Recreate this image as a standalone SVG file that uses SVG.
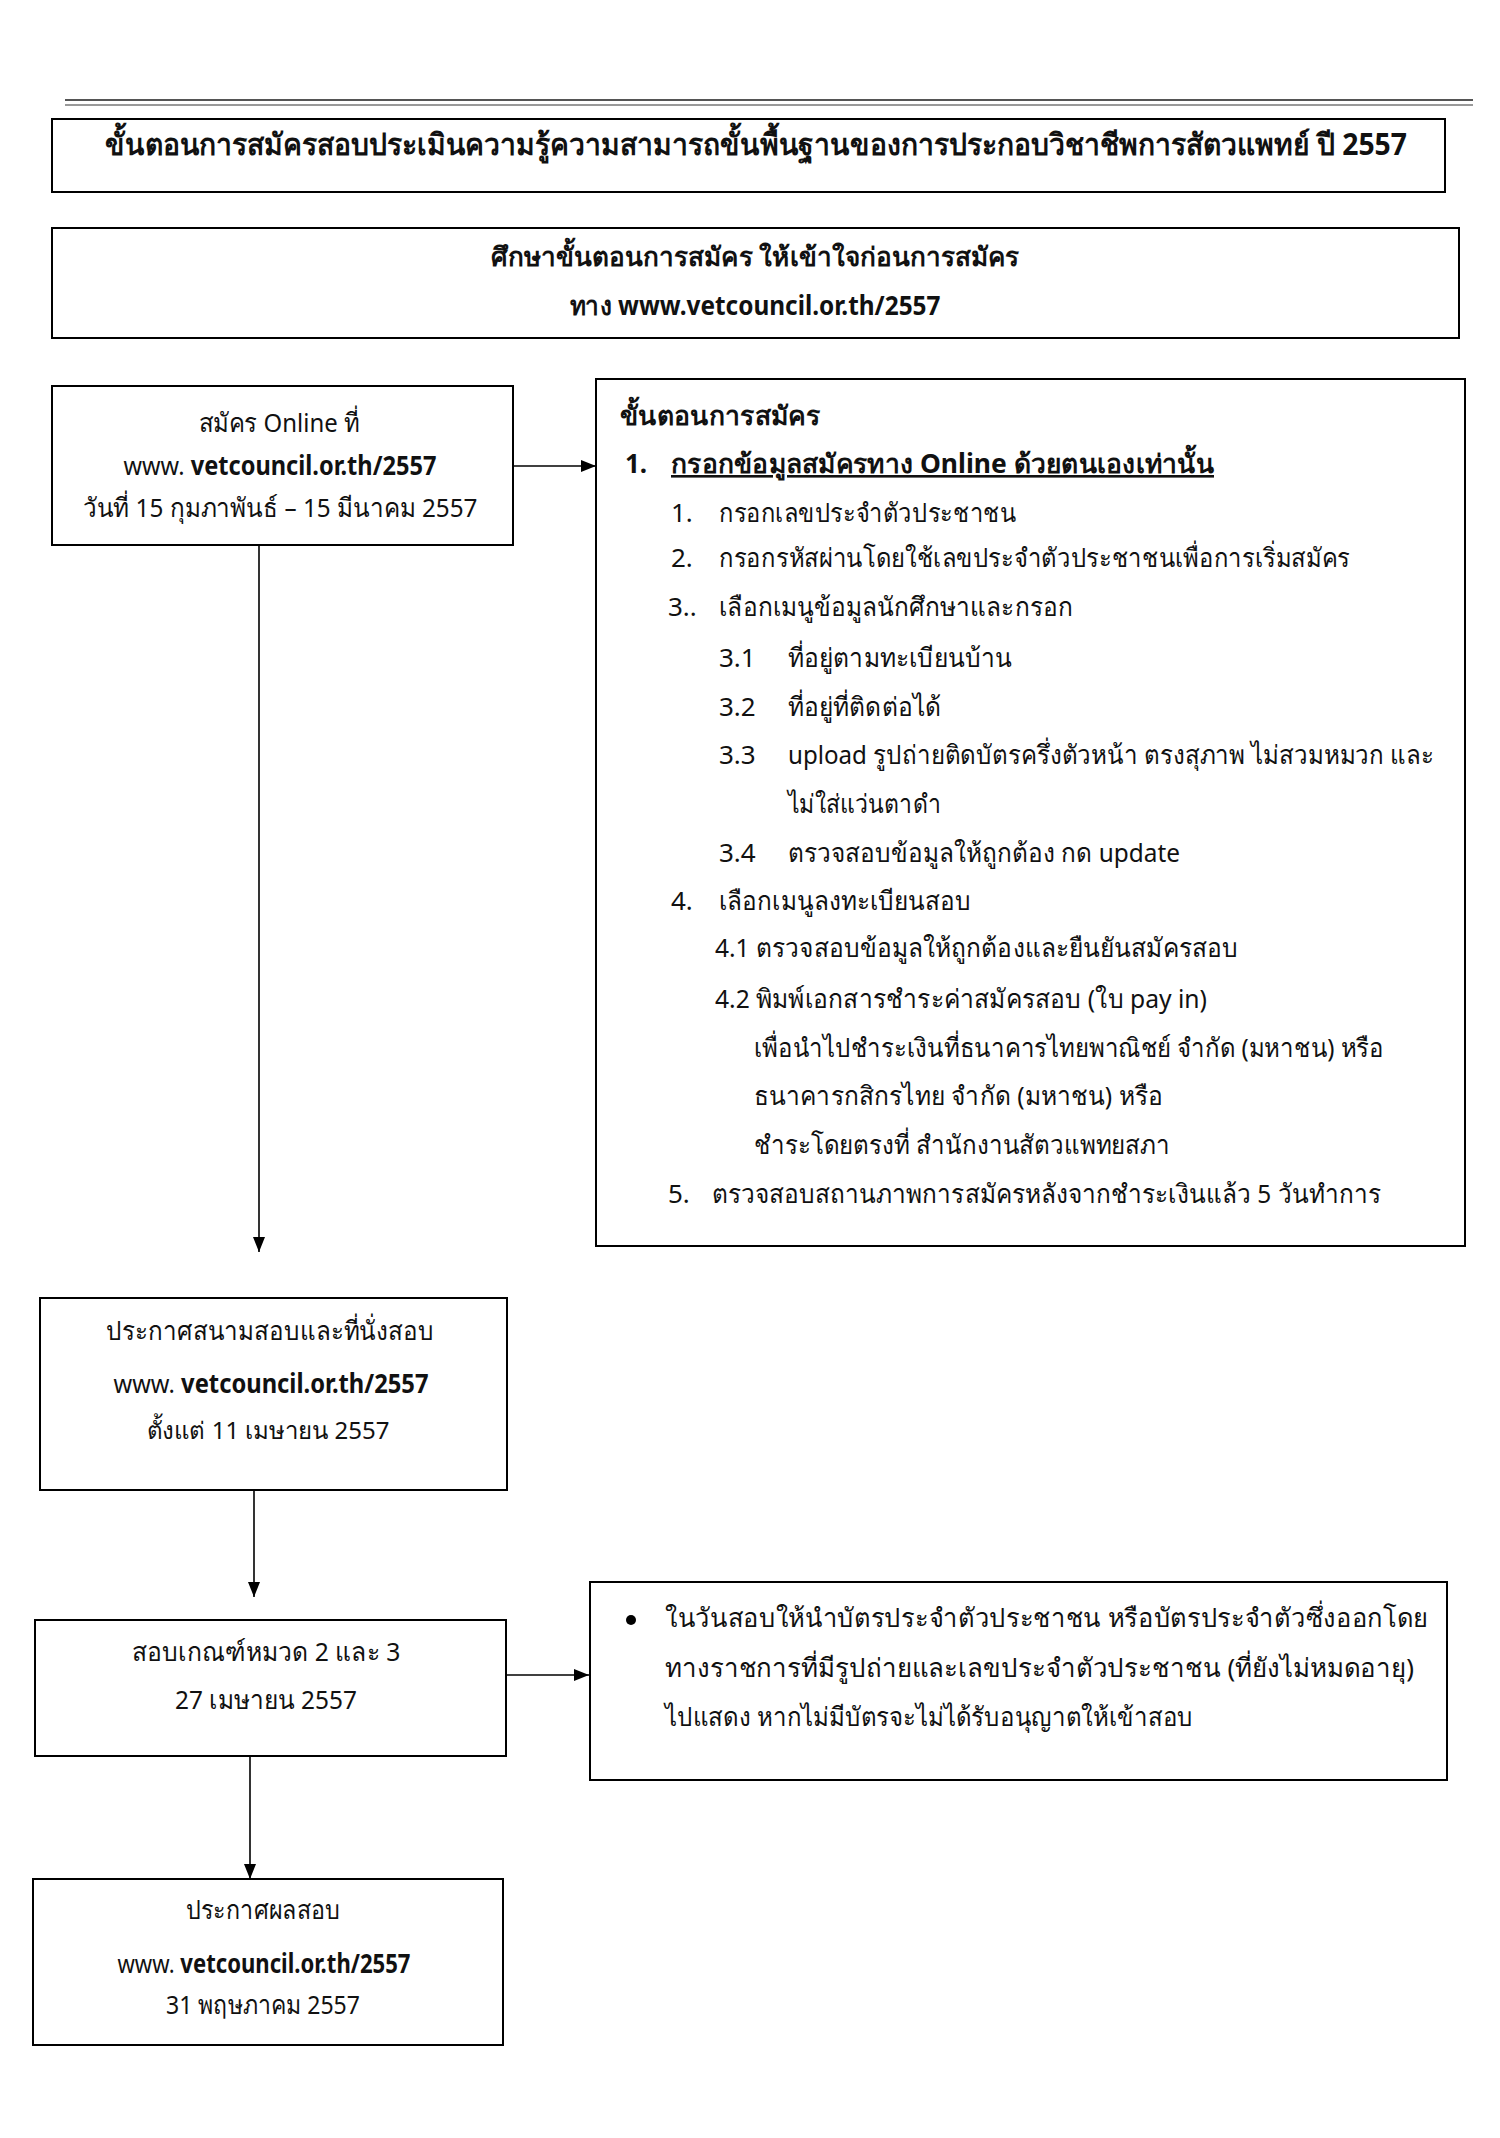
<svg xmlns="http://www.w3.org/2000/svg" width="1500" height="2138" viewBox="0 0 1500 2138">
<defs>
<marker id="arr" markerUnits="userSpaceOnUse" markerWidth="16" markerHeight="12" refX="15" refY="6" orient="auto">
<path d="M0,0 L15,6 L0,12 z" fill="#000"/>
</marker>
</defs>
<style>
.box{fill:#fff;stroke:#000;stroke-width:2}
.t{font-family:"Noto Sans","Liberation Sans",sans-serif;font-size:26px;fill:#111}
.b{font-weight:bold}
.c{text-anchor:middle}
.conn{stroke:#000;stroke-width:1.6;fill:none}
</style>
<rect width="1500" height="2138" fill="#fff"/>
<g id="deco">
<line x1="65" y1="100" x2="1473" y2="100" stroke="#555" stroke-width="2"/>
<line x1="65" y1="105" x2="1473" y2="105" stroke="#777" stroke-width="1.5"/>
</g>
<g id="title">
<rect class="box" x="52" y="119" width="1393" height="73"/>
<text class="t b c" x="756" y="155" style="font-size:30px" textLength="1302" lengthAdjust="spacingAndGlyphs">ขั้นตอนการสมัครสอบประเมินความรู้ความสามารถขั้นพื้นฐานของการประกอบวิชาชีพการสัตวแพทย์  ปี 2557</text>
</g>
<g id="study">
<rect class="box" x="52" y="228" width="1407" height="110"/>
<text class="t b c" x="755" y="266" textLength="529" lengthAdjust="spacingAndGlyphs">ศึกษาขั้นตอนการสมัคร ให้เข้าใจก่อนการสมัคร</text>
<text class="t b c" x="755" y="315" textLength="371" lengthAdjust="spacingAndGlyphs">ทาง www.vetcouncil.or.th/2557</text>
</g>
<g id="apply-online">
<rect class="box" x="52" y="386" width="461" height="159"/>
<text class="t c" x="279" y="432" textLength="161" lengthAdjust="spacingAndGlyphs">สมัคร Online ที่</text>
<text class="t c" x="280" y="475" textLength="313" lengthAdjust="spacingAndGlyphs">www. <tspan class="b">vetcouncil.or.th/2557</tspan></text>
<text class="t c" x="280" y="517" textLength="395" lengthAdjust="spacingAndGlyphs">วันที่ 15 กุมภาพันธ์ – 15 มีนาคม 2557</text>
</g>
<g id="steps">
<rect class="box" x="596" y="379" width="869" height="867"/>
<text class="t b" x="620" y="425" textLength="200" lengthAdjust="spacingAndGlyphs">ขั้นตอนการสมัคร</text>
<text class="t b" x="625" y="473">1.</text>
<text class="t b" x="671" y="473" text-decoration="underline" textLength="543" lengthAdjust="spacingAndGlyphs">กรอกข้อมูลสมัครทาง Online  ด้วยตนเองเท่านั้น</text>
<text class="t" x="671" y="522">1.</text>
<text class="t" x="719" y="522" textLength="297" lengthAdjust="spacingAndGlyphs">กรอกเลขประจำตัวประชาชน</text>
<text class="t" x="671" y="567">2.</text>
<text class="t" x="719" y="567" textLength="631" lengthAdjust="spacingAndGlyphs">กรอกรหัสผ่านโดยใช้เลขประจำตัวประชาชนเพื่อการเริ่มสมัคร</text>
<text class="t" x="668" y="616">3..</text>
<text class="t" x="719" y="616" textLength="354" lengthAdjust="spacingAndGlyphs">เลือกเมนูข้อมูลนักศึกษาและกรอก</text>
<text class="t" x="719" y="667">3.1</text>
<text class="t" x="788" y="667" textLength="224" lengthAdjust="spacingAndGlyphs">ที่อยู่ตามทะเบียนบ้าน</text>
<text class="t" x="719" y="716">3.2</text>
<text class="t" x="788" y="716" textLength="153" lengthAdjust="spacingAndGlyphs">ที่อยู่ที่ติดต่อได้</text>
<text class="t" x="719" y="764">3.3</text>
<text class="t" x="788" y="764" textLength="646" lengthAdjust="spacingAndGlyphs">upload รูปถ่ายติดบัตรครึ่งตัวหน้า ตรงสุภาพ ไม่สวมหมวก และ</text>
<text class="t" x="788" y="813" textLength="153" lengthAdjust="spacingAndGlyphs">ไม่ใส่แว่นตาดำ</text>
<text class="t" x="719" y="862">3.4</text>
<text class="t" x="788" y="862" textLength="392" lengthAdjust="spacingAndGlyphs">ตรวจสอบข้อมูลให้ถูกต้อง กด update</text>
<text class="t" x="671" y="910">4.</text>
<text class="t" x="719" y="910" textLength="252" lengthAdjust="spacingAndGlyphs">เลือกเมนูลงทะเบียนสอบ</text>
<text class="t" x="715" y="957" textLength="523" lengthAdjust="spacingAndGlyphs">4.1 ตรวจสอบข้อมูลให้ถูกต้องและยืนยันสมัครสอบ</text>
<text class="t" x="715" y="1008" textLength="492" lengthAdjust="spacingAndGlyphs">4.2 พิมพ์เอกสารชำระค่าสมัครสอบ (ใบ pay in)</text>
<text class="t" x="754" y="1057" textLength="630" lengthAdjust="spacingAndGlyphs">เพื่อนำไปชำระเงินที่ธนาคารไทยพาณิชย์ จำกัด (มหาชน) หรือ</text>
<text class="t" x="754" y="1105" textLength="409" lengthAdjust="spacingAndGlyphs">ธนาคารกสิกรไทย จำกัด (มหาชน) หรือ</text>
<text class="t" x="754" y="1154" textLength="416" lengthAdjust="spacingAndGlyphs">ชำระโดยตรงที่ สำนักงานสัตวแพทยสภา</text>
<text class="t" x="668" y="1203">5.</text>
<text class="t" x="712" y="1203" textLength="669" lengthAdjust="spacingAndGlyphs">ตรวจสอบสถานภาพการสมัครหลังจากชำระเงินแล้ว 5 วันทำการ</text>
</g>
<g id="announce-venue">
<rect class="box" x="40" y="1298" width="467" height="192"/>
<text class="t c" x="270" y="1340" textLength="328" lengthAdjust="spacingAndGlyphs">ประกาศสนามสอบและที่นั่งสอบ</text>
<text class="t c" x="271" y="1393" textLength="315" lengthAdjust="spacingAndGlyphs">www. <tspan class="b">vetcouncil.or.th/2557</tspan></text>
<text class="t c" x="268" y="1439" style="font-size:24px" textLength="243" lengthAdjust="spacingAndGlyphs">ตั้งแต่ 11 เมษายน 2557</text>
</g>
<g id="exam">
<rect class="box" x="35" y="1620" width="471" height="136"/>
<text class="t c" x="266" y="1661" textLength="269" lengthAdjust="spacingAndGlyphs">สอบเกณฑ์หมวด 2 และ 3</text>
<text class="t c" x="266" y="1709" textLength="182" lengthAdjust="spacingAndGlyphs">27 เมษายน 2557</text>
</g>
<g id="exam-note">
<rect class="box" x="590" y="1582" width="857" height="198"/>
<circle cx="631" cy="1620" r="5" fill="#000"/>
<text class="t" x="665" y="1627" textLength="763" lengthAdjust="spacingAndGlyphs">ในวันสอบให้นำบัตรประจำตัวประชาชน หรือบัตรประจำตัวซึ่งออกโดย</text>
<text class="t" x="665" y="1677" textLength="749" lengthAdjust="spacingAndGlyphs">ทางราชการที่มีรูปถ่ายและเลขประจำตัวประชาชน (ที่ยังไม่หมดอายุ)</text>
<text class="t" x="665" y="1726" textLength="528" lengthAdjust="spacingAndGlyphs">ไปแสดง  หากไม่มีบัตรจะไม่ได้รับอนุญาตให้เข้าสอบ</text>
</g>
<g id="results">
<rect class="box" x="33" y="1879" width="470" height="166"/>
<text class="t c" x="263" y="1919" textLength="155" lengthAdjust="spacingAndGlyphs">ประกาศผลสอบ</text>
<text class="t c" x="264" y="1973" textLength="293" lengthAdjust="spacingAndGlyphs">www. <tspan class="b">vetcouncil.or.th/2557</tspan></text>
<text class="t c" x="263" y="2014" textLength="194" lengthAdjust="spacingAndGlyphs">31 พฤษภาคม 2557</text>
</g>
<g id="connectors">
<line class="conn" x1="513" y1="466" x2="596" y2="466" marker-end="url(#arr)"/>
<line class="conn" x1="259" y1="545" x2="259" y2="1252" marker-end="url(#arr)"/>
<line class="conn" x1="254" y1="1490" x2="254" y2="1597" marker-end="url(#arr)"/>
<line class="conn" x1="506" y1="1675" x2="589" y2="1675" marker-end="url(#arr)"/>
<line class="conn" x1="250" y1="1756" x2="250" y2="1879" marker-end="url(#arr)"/>
</g>
</svg>
